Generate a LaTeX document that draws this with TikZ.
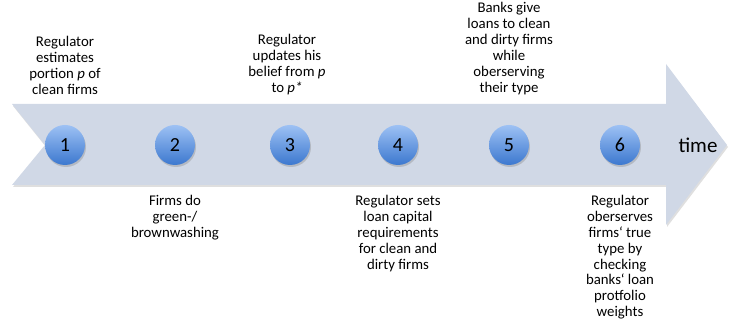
\documentclass[tikz,border=0pt]{standalone}
\usepackage{fontspec}
\setmainfont{Carlito}
\usetikzlibrary{shadows}

\definecolor{arrowfill}{HTML}{D0D8E6}
\definecolor{balltop}{HTML}{9DC1F4}
\definecolor{ballbottom}{HTML}{3C78CF}

\begin{document}
\begin{tikzpicture}[x=1pt,y=-1pt]
	\tikzstyle{every node}+=[inner sep=0pt]
	\tikzstyle{stage}=[circle, minimum size=40pt, top color=balltop, bottom color=ballbottom,
		drop shadow={shadow xshift=1pt, shadow yshift=-2pt, opacity=0.35},
		font=\fontsize{20}{23}\selectfont]
	\tikzstyle{event}=[align=center, font=\fontsize{14.8}{15.9}\selectfont]
	\useasboundingbox (0,0) rectangle (736,328);
	% the time arrow with its notched tail
	\fill [arrowfill, drop shadow={shadow xshift=1pt, shadow yshift=-2pt, opacity=0.25}]
		(12,104) -- (666,104) -- (666,64) -- (727,145) -- (666,225) -- (666,185)
		-- (12,185) -- (45,145) -- cycle;
	% stages
	\node [stage] (s1) at (65,145) {1};
	\node [stage] (s2) at (175,145) {2};
	\node [stage] (s3) at (290,145) {3};
	\node [stage] (s4) at (398,145) {4};
	\node [stage] (s5) at (509,145) {5};
	\node [stage] (s6) at (620,145) {6};
	\node [font=\fontsize{21}{24}\selectfont] (time) at (698,145) {time};
	% events above the arrow
	\node [event, anchor=south] (e1) at (65,95) {Regulator\\estimates\\portion \textit{p} of\\clean firms};
	\node [event, anchor=south] (e3) at (287,95) {Regulator\\updates his\\belief from \textit{p}\\to \textit{p*}};
	\node [event, anchor=south] (e5) at (509,95) {Banks give\\loans to clean\\and dirty firms\\while\\oberserving\\their type};
	% events below the arrow
	\node [event, anchor=north] (e2) at (175,195) {Firms do\\green-/\\brownwashing};
	\node [event, anchor=north] (e4) at (398,195) {Regulator sets\\loan capital\\requirements\\for clean and\\dirty firms};
	\node [event, anchor=north] (e6) at (620,195) {Regulator\\oberserves\\firms‘ true\\type by\\checking\\banks‘ loan\\protfolio\\weights};
\end{tikzpicture}
\end{document}
